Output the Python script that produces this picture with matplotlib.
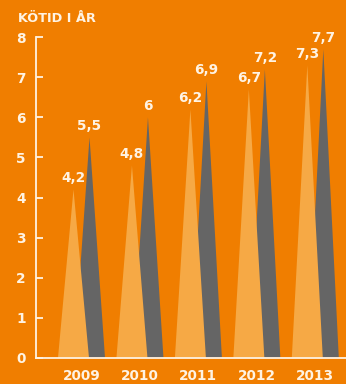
import matplotlib
matplotlib.use("Agg")
import matplotlib.pyplot as plt
from matplotlib.patches import Polygon

years = ["2009", "2010", "2011", "2012", "2013"]
series_a = [4.2, 4.8, 6.2, 6.7, 7.3]   # light orange
series_b = [5.5, 6.0, 6.9, 7.2, 7.7]   # grey
yticks = [0, 1, 2, 3, 4, 5, 6, 7, 8]
title = "KÖTID I ÅR"

BG = "#F07E00"
LIGHT = "#F6A945"
GREY = "#656565"
TXT = "#FFF3E3"

W, H = 346, 384
fig = plt.figure(figsize=(W / 100, H / 100), dpi=100, facecolor=BG)
left, right = 35.5, 346
bottom, top = 384 - 357.7, 384 - 37.3
ax = fig.add_axes([left / W, bottom / H, (right - left) / W, (top - bottom) / H])
ax.set_facecolor(BG)

off = 0.137
hw = 0.265

def fmt(v):
    s = f"{v:g}"
    return s.replace(".", ",")

for i, (a, b) in enumerate(zip(series_a, series_b)):
    cb = i + off
    ax.add_patch(Polygon([(cb - hw, 0), (cb, b), (cb + hw, 0)], closed=True,
                         facecolor=GREY, edgecolor="none", zorder=1))
    ca = i - off
    ax.add_patch(Polygon([(ca - hw, 0), (ca, a), (ca + hw, 0)], closed=True,
                         facecolor=LIGHT, edgecolor="none", zorder=2))
    ax.annotate(fmt(a), (ca, a), xytext=(0, 3), textcoords="offset points",
                ha="center", va="bottom", color=TXT, fontsize=9.8,
                fontweight="bold", family="DejaVu Sans", zorder=5)
    ax.annotate(fmt(b), (cb, b), xytext=(0, 3), textcoords="offset points",
                ha="center", va="bottom", color=TXT, fontsize=9.8,
                fontweight="bold", family="DejaVu Sans", zorder=5)

ax.set_xlim(-0.787, 4.525)
ax.set_ylim(0, 8)
ax.set_xticks(range(len(years)))
ax.set_xticklabels(years)
ax.set_yticks(yticks)
ax.set_yticklabels([str(t) for t in yticks])

for s in ["top", "right"]:
    ax.spines[s].set_visible(False)
for s in ["left", "bottom"]:
    ax.spines[s].set_color(TXT)
    ax.spines[s].set_linewidth(1.3)
    ax.spines[s].set_zorder(4)

ax.tick_params(axis="y", direction="in", length=5, width=1.3, color=TXT,
               labelcolor=TXT, pad=7, labelsize=9.8)
ax.tick_params(axis="x", length=0, labelcolor=TXT, pad=8, labelsize=9.8)
for lab in ax.get_xticklabels() + ax.get_yticklabels():
    lab.set_fontweight("bold")
    lab.set_family("DejaVu Sans")

fig.text(18 / W, 1 - 18 / H, title, ha="left", va="center", color=TXT,
         fontsize=9.3, fontweight="bold", family="DejaVu Sans")

fig.savefig("out.png", dpi=100, facecolor=BG)
